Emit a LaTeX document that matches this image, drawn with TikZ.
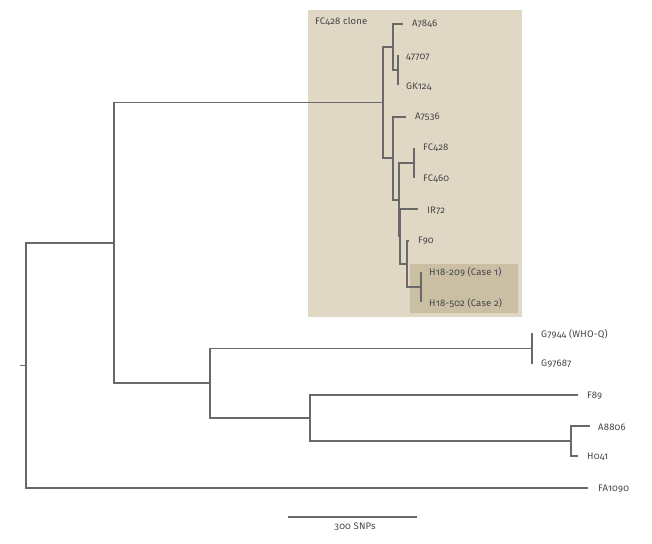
\documentclass[tikz,border=0pt]{standalone}
\usepackage{fontspec}
\setmainfont{Fira Sans}[Numbers=OldStyle,LetterSpace=2]
\definecolor{boxouter}{RGB}{224,216,197}
\definecolor{boxinner}{RGB}{202,191,163}
\definecolor{branch}{RGB}{105,105,105}
\definecolor{labeltext}{RGB}{70,70,70}
\tikzset{
  edge/.style={draw=branch, line width=1.3pt},
  leaf/.style={anchor=west, inner sep=0pt, text=labeltext, font=\fontsize{9.5}{11}\selectfont},
}
\begin{document}
\begin{tikzpicture}[x=1pt,y=-1pt]
\useasboundingbox (0,0) rectangle (652,543);
% highlight boxes
\fill[boxouter] (308,10) rectangle (522,317);
\fill[boxinner] (410,264) rectangle (518,313);
\node[leaf] (cloneLabel) at (315,21) {FC428 clone};
% internal nodes
\coordinate (rt) at (20,365.5);
\coordinate (root) at (26,365.5);
\coordinate (n1) at (114,243);
\coordinate (clone) at (383,102.5);
\coordinate (c1) at (393,47);
\coordinate (c3) at (398,70);
\coordinate (c2) at (393,158);
\coordinate (c4) at (399,200);
\coordinate (c5) at (414,163);
\coordinate (c6) at (400,236);
\coordinate (c7) at (407,264);
\coordinate (c8) at (421,287);
\coordinate (n3) at (210,383);
\coordinate (g) at (532,348.5);
\coordinate (n4) at (310,418);
\coordinate (n5) at (571,441);
% tips
\coordinate (tA7846) at (403,24);
\coordinate (t47707) at (398,55);
\coordinate (tGK124) at (398,85);
\coordinate (tA7536) at (406,117);
\coordinate (tFC428) at (414,148);
\coordinate (tFC460) at (414,178);
\coordinate (tIR72) at (418,209);
\coordinate (tF90) at (409,241);
\coordinate (tH209) at (421,272);
\coordinate (tH502) at (421,302);
\coordinate (tG7944) at (532,333);
\coordinate (tG97687) at (532,364);
\coordinate (tF89) at (578,395);
\coordinate (tA8806) at (590,426);
\coordinate (tH041) at (578,456);
\coordinate (tFA1090) at (588,488);
% branches
\draw[edge] (rt) -- (root);
\draw[edge] (root) |- (n1);
\draw[edge] (root) |- (tFA1090);
\draw[edge] (n1) |- (clone);
\draw[edge] (n1) |- (n3);
\draw[edge] (clone) |- (c1);
\draw[edge] (clone) |- (c2);
\draw[edge] (c1) |- (tA7846);
\draw[edge] (c1) |- (c3);
\draw[edge] (c3) |- (t47707);
\draw[edge] (c3) |- (tGK124);
\draw[edge] (c2) |- (tA7536);
\draw[edge] (c2) |- (c4);
\draw[edge] (c4) |- (c5);
\draw[edge] (c4) |- (c6);
\draw[edge] (c5) |- (tFC428);
\draw[edge] (c5) |- (tFC460);
\draw[edge] (c6) |- (tIR72);
\draw[edge] (c6) |- (c7);
\draw[edge] (c7) |- (tF90);
\draw[edge] (c7) |- (c8);
\draw[edge] (c8) |- (tH209);
\draw[edge] (c8) |- (tH502);
\draw[edge] (n3) |- (g);
\draw[edge] (n3) |- (n4);
\draw[edge] (g) |- (tG7944);
\draw[edge] (g) |- (tG97687);
\draw[edge] (n4) |- (tF89);
\draw[edge] (n4) |- (n5);
\draw[edge] (n5) |- (tA8806);
\draw[edge] (n5) |- (tH041);
% labels
\node[leaf] (lA7846) at (412,24) {A7846};
\node[leaf] (l47707) at (406,57) {47707};
\node[leaf] (lGK124) at (406,87) {GK124};
\node[leaf] (lA7536) at (415,117) {A7536};
\node[leaf] (lFC428) at (423,148) {FC428};
\node[leaf] (lFC460) at (423,179) {FC460};
\node[leaf] (lIR72) at (427,211) {IR72};
\node[leaf] (lF90) at (418,241) {F90};
\node[leaf] (lH209) at (429,272) {H18-209 (Case 1)};
\node[leaf] (lH502) at (429,303) {H18-502 (Case 2)};
\node[leaf] (lG7944) at (541,334) {G7944 (WHO-Q)};
\node[leaf] (lG97687) at (541,364) {G97687};
\node[leaf] (lF89) at (587,396) {F89};
\node[leaf] (lA8806) at (598,427) {A8806};
\node[leaf] (lH041) at (587,457) {H041};
\node[leaf] (lFA1090) at (598,489) {FA1090};
% scale bar
\coordinate (sbL) at (288,517);
\coordinate (sbR) at (417,517);
\draw[edge] (sbL) -- (sbR);
\node[leaf, anchor=center] (sbLabel) at (355,527) {300 SNPs};
\end{tikzpicture}
\end{document}
